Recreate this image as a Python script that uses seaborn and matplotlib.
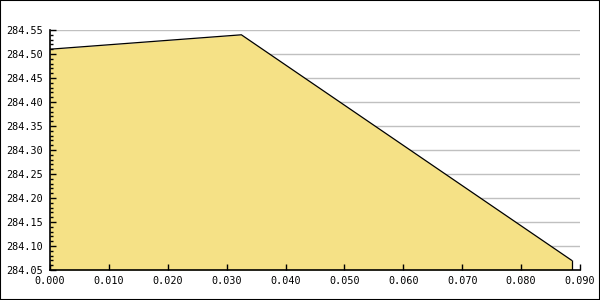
import matplotlib
matplotlib.use("Agg")
import matplotlib.pyplot as plt
import seaborn as sns
import pandas as pd
from matplotlib.patches import Rectangle
from matplotlib.ticker import MultipleLocator, FormatStrFormatter

x_values = [0.0, 0.0325, 0.0886]
y_values = [284.510, 284.540, 284.070]
x_ticks = [0.00, 0.01, 0.02, 0.03, 0.04, 0.05, 0.06, 0.07, 0.08, 0.09]
y_ticks = [284.05, 284.10, 284.15, 284.20, 284.25, 284.30, 284.35, 284.40, 284.45, 284.50, 284.55]

df = pd.DataFrame({"x": x_values, "y": y_values})

sns.set_style("white")
plt.rcParams['font.family'] = ['DejaVu Sans Mono']

fig = plt.figure(figsize=(6, 3), dpi=100)
ax = fig.add_axes([50/600, 30/300, 530/600, 240/300])

ymin, ymax = y_ticks[0], y_ticks[-1]
ax.hlines(y_ticks[1:], x_ticks[0], x_ticks[-1], color="#C0C0C0", linewidth=1, zorder=1)
ax.fill_between(df["x"], df["y"], ymin, color="#F5E186", linewidth=0, zorder=2)
sns.lineplot(data=df, x="x", y="y", ax=ax, color="black", linewidth=0.9, zorder=3)
ax.vlines(x_values[-1], ymin, y_values[-1], color="black", linewidth=0.9, zorder=3)

ax.set_xlim(x_ticks[0], x_ticks[-1])
ax.set_ylim(ymin, ymax)
ax.set_xticks(x_ticks)
ax.set_yticks(y_ticks)
ax.xaxis.set_major_formatter(FormatStrFormatter("%.3f"))
ax.yaxis.set_major_formatter(FormatStrFormatter("%.2f"))
ax.yaxis.set_minor_locator(MultipleLocator(0.01))
ax.set_xlabel("")
ax.set_ylabel("")
ax.grid(False)
ax.xaxis.set_zorder(5)
ax.yaxis.set_zorder(5)

for s in ["top", "right"]:
    ax.spines[s].set_visible(False)
for s in ["left", "bottom"]:
    ax.spines[s].set_color("black")
    ax.spines[s].set_linewidth(1.2)
    ax.spines[s].set_zorder(6)

ax.tick_params(axis="x", which="major", bottom=True, top=False)
ax.tick_params(axis="y", which="both", left=True, right=False)
ax.tick_params(axis="both", which="major", direction="in", length=4, width=1,
               color="black", labelsize=7.3, labelcolor="black")
ax.tick_params(axis="y", which="major", pad=5)
ax.tick_params(axis="x", which="major", pad=4.5)
ax.tick_params(axis="y", which="minor", direction="in", length=2.5, width=1, color="black")

fig.patches.append(Rectangle((0, 0), 1, 1, transform=fig.transFigure, fill=False,
                             edgecolor="black", linewidth=1.5, zorder=10))

fig.savefig("out.png", dpi=100)
